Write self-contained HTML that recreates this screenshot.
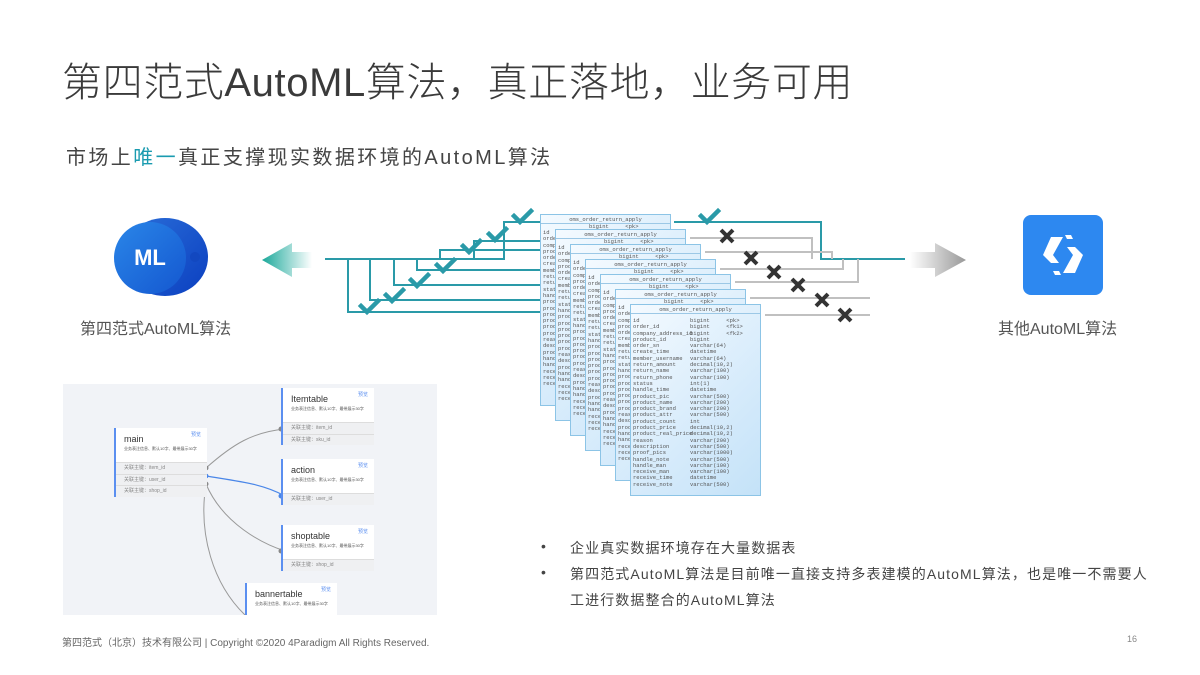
<!DOCTYPE html>
<html><head><meta charset="utf-8"><style>
*{margin:0;padding:0;box-sizing:border-box}
body{width:1200px;height:675px;background:#fff;position:relative;overflow:hidden;font-family:"Liberation Sans","Noto Sans CJK SC",sans-serif;color:#444}
.abs{position:absolute;white-space:nowrap}
.card{position:absolute;width:131px;height:192px;background:linear-gradient(135deg,#f4faff,#d6ebfb 60%,#c4e2f8);border:1.5px solid #8cc4e6;font-family:"Liberation Mono",monospace;font-size:5.5px;color:#555;overflow:hidden}
.card .h{height:9px;border-bottom:1px solid #9cc8e6;text-align:center;line-height:9px}
.card .s{height:6px;line-height:6px;padding-left:48px}
.card .r{display:flex;line-height:6.3px;padding-left:2px}
.card .r span:first-child{width:57px}
.node{position:absolute;background:#fff;border-left:2px solid #5b8ff0;font-size:7px;color:#333}
.node .t{padding:6px 0 0 8px;font-size:9px;color:#333}
.node .d{padding:2px 0 0 8px;font-size:4px;color:#555}
.node .p{position:absolute;right:6px;top:3px;font-size:5px;color:#5b8ff0}
.node .k{background:#eff0f2;border-top:1px solid #ddd;height:11.5px;line-height:11px;padding-left:8px;font-size:5px;color:#888}
.b{font-size:14px;color:#444;letter-spacing:1.1px}
</style></head><body>
<div class="abs" style="left:62px;top:50px;font-size:40px;color:#3a3a3a;font-weight:300;letter-spacing:0.6px">第四范式AutoML算法，真正落地，业务可用</div>
<div class="abs" style="left:66px;top:141px;font-size:20px;color:#444;letter-spacing:2.4px">市场上<span style="color:#1a9bb0">唯一</span>真正支撑现实数据环境的AutoML算法</div>

<!-- ML logo -->
<div class="abs" style="left:122px;top:218px;width:86px;height:78px;border-radius:50%;background:linear-gradient(135deg,#2b6fd9,#0b3fc0)"></div>
<div class="abs" style="left:114px;top:222px;width:72px;height:72px;border-radius:50%;background:linear-gradient(135deg,#2a86e8,#1457d0);color:#fff;font-size:22px;font-weight:bold;text-align:center;line-height:72px">ML</div>
<div class="abs" style="left:190px;top:252px;width:10px;height:10px;border-radius:50%;background:#1248c0"></div>
<div class="abs" style="left:80px;top:315px;font-size:16px;color:#555">第四范式AutoML算法</div>

<!-- other logo -->
<div class="abs" style="left:1023px;top:215px;width:80px;height:80px;border-radius:8px;background:#2d88f0"></div>
<svg class="abs" style="left:1023px;top:215px" width="80" height="80"><g fill="#fff">
<polygon points="28,22 40,22 30,40 36,48 28,48 20,40"/><polygon points="52,58 40,58 50,40 44,32 52,32 60,40"/>
<polygon points="42,20 48,20 50,24 44,24"/><polygon points="38,60 32,60 30,56 36,56"/></g></svg>
<div class="abs" style="left:998px;top:315px;font-size:16px;color:#555">其他AutoML算法</div>

<svg class="abs" style="left:0;top:0" width="1200" height="675">
<defs>
<linearGradient id="ga" x1="0" x2="1"><stop offset="0" stop-color="#1aa89a"/><stop offset="1" stop-color="#1aa89a" stop-opacity="0"/></linearGradient>
<linearGradient id="gb" x1="0" x2="1"><stop offset="0" stop-color="#fff"/><stop offset="1" stop-color="#999"/></linearGradient>
</defs>
<polygon points="262,260 292,243 292,252 312,252 312,268 292,268 292,277" fill="url(#ga)"/>
<polygon points="910,252 935,252 935,243 966,260 935,277 935,268 910,268" fill="url(#gb)"/>
<g stroke="#2a9aa8" stroke-width="2" fill="none">
<polyline points="325,259 348,259 348,312 630,312"/>
<polyline points="370,259 370,300 615,300"/>
<polyline points="394,259 394,285 600,285"/>
<polyline points="417,259 417,270 585,270"/>
<polyline points="440,259 440,250 570,250"/>
<polyline points="474,259 474,241 555,241"/>
<polyline points="348,259 504,259 504,222 540,222"/>
<polyline points="674,222 821,222 821,259 905,259"/>
</g>
<g stroke="#c0c0c0" stroke-width="2" fill="none">
<polyline points="690,238 812,238 812,259"/>
<polyline points="705,252 832,252 832,259"/>
<polyline points="720,269 843,269 843,259"/>
<polyline points="735,282 858,282 858,259"/>
<polyline points="750,298 870,298"/>
<polyline points="765,315 870,315"/>
</g>
</svg>

<div class="card" style="left:540px;top:214px"><div class="h">oms_order_return_apply</div><div class="s">bigint &nbsp;&nbsp;&nbsp;&nbsp;&lt;pk&gt;</div><div class="r"><span>id</span></div><div class="r"><span>order_id</span></div><div class="r"><span>company</span></div><div class="r"><span>product</span></div><div class="r"><span>order_sn</span></div><div class="r"><span>create</span></div><div class="r"><span>member</span></div><div class="r"><span>return</span></div><div class="r"><span>return</span></div><div class="r"><span>status</span></div><div class="r"><span>handle</span></div><div class="r"><span>product</span></div><div class="r"><span>product</span></div><div class="r"><span>product</span></div><div class="r"><span>product</span></div><div class="r"><span>product</span></div><div class="r"><span>product</span></div><div class="r"><span>reason</span></div><div class="r"><span>descr</span></div><div class="r"><span>proof</span></div><div class="r"><span>handle</span></div><div class="r"><span>handle</span></div><div class="r"><span>receive</span></div><div class="r"><span>receive</span></div><div class="r"><span>receive</span></div></div>
<div class="card" style="left:555px;top:229px"><div class="h">oms_order_return_apply</div><div class="s">bigint &nbsp;&nbsp;&nbsp;&nbsp;&lt;pk&gt;</div><div class="r"><span>id</span></div><div class="r"><span>order_id</span></div><div class="r"><span>company</span></div><div class="r"><span>product</span></div><div class="r"><span>order_sn</span></div><div class="r"><span>create</span></div><div class="r"><span>member</span></div><div class="r"><span>return</span></div><div class="r"><span>return</span></div><div class="r"><span>status</span></div><div class="r"><span>handle</span></div><div class="r"><span>product</span></div><div class="r"><span>product</span></div><div class="r"><span>product</span></div><div class="r"><span>product</span></div><div class="r"><span>product</span></div><div class="r"><span>product</span></div><div class="r"><span>reason</span></div><div class="r"><span>descr</span></div><div class="r"><span>proof</span></div><div class="r"><span>handle</span></div><div class="r"><span>handle</span></div><div class="r"><span>receive</span></div><div class="r"><span>receive</span></div><div class="r"><span>receive</span></div></div>
<div class="card" style="left:570px;top:244px"><div class="h">oms_order_return_apply</div><div class="s">bigint &nbsp;&nbsp;&nbsp;&nbsp;&lt;pk&gt;</div><div class="r"><span>id</span></div><div class="r"><span>order_id</span></div><div class="r"><span>company</span></div><div class="r"><span>product</span></div><div class="r"><span>order_sn</span></div><div class="r"><span>create</span></div><div class="r"><span>member</span></div><div class="r"><span>return</span></div><div class="r"><span>return</span></div><div class="r"><span>status</span></div><div class="r"><span>handle</span></div><div class="r"><span>product</span></div><div class="r"><span>product</span></div><div class="r"><span>product</span></div><div class="r"><span>product</span></div><div class="r"><span>product</span></div><div class="r"><span>product</span></div><div class="r"><span>reason</span></div><div class="r"><span>descr</span></div><div class="r"><span>proof</span></div><div class="r"><span>handle</span></div><div class="r"><span>handle</span></div><div class="r"><span>receive</span></div><div class="r"><span>receive</span></div><div class="r"><span>receive</span></div></div>
<div class="card" style="left:585px;top:259px"><div class="h">oms_order_return_apply</div><div class="s">bigint &nbsp;&nbsp;&nbsp;&nbsp;&lt;pk&gt;</div><div class="r"><span>id</span></div><div class="r"><span>order_id</span></div><div class="r"><span>company</span></div><div class="r"><span>product</span></div><div class="r"><span>order_sn</span></div><div class="r"><span>create</span></div><div class="r"><span>member</span></div><div class="r"><span>return</span></div><div class="r"><span>return</span></div><div class="r"><span>status</span></div><div class="r"><span>handle</span></div><div class="r"><span>product</span></div><div class="r"><span>product</span></div><div class="r"><span>product</span></div><div class="r"><span>product</span></div><div class="r"><span>product</span></div><div class="r"><span>product</span></div><div class="r"><span>reason</span></div><div class="r"><span>descr</span></div><div class="r"><span>proof</span></div><div class="r"><span>handle</span></div><div class="r"><span>handle</span></div><div class="r"><span>receive</span></div><div class="r"><span>receive</span></div><div class="r"><span>receive</span></div></div>
<div class="card" style="left:600px;top:274px"><div class="h">oms_order_return_apply</div><div class="s">bigint &nbsp;&nbsp;&nbsp;&nbsp;&lt;pk&gt;</div><div class="r"><span>id</span></div><div class="r"><span>order_id</span></div><div class="r"><span>company</span></div><div class="r"><span>product</span></div><div class="r"><span>order_sn</span></div><div class="r"><span>create</span></div><div class="r"><span>member</span></div><div class="r"><span>return</span></div><div class="r"><span>return</span></div><div class="r"><span>status</span></div><div class="r"><span>handle</span></div><div class="r"><span>product</span></div><div class="r"><span>product</span></div><div class="r"><span>product</span></div><div class="r"><span>product</span></div><div class="r"><span>product</span></div><div class="r"><span>product</span></div><div class="r"><span>reason</span></div><div class="r"><span>descr</span></div><div class="r"><span>proof</span></div><div class="r"><span>handle</span></div><div class="r"><span>handle</span></div><div class="r"><span>receive</span></div><div class="r"><span>receive</span></div><div class="r"><span>receive</span></div></div>
<div class="card" style="left:615px;top:289px"><div class="h">oms_order_return_apply</div><div class="s">bigint &nbsp;&nbsp;&nbsp;&nbsp;&lt;pk&gt;</div><div class="r"><span>id</span></div><div class="r"><span>order_id</span></div><div class="r"><span>company</span></div><div class="r"><span>product</span></div><div class="r"><span>order_sn</span></div><div class="r"><span>create</span></div><div class="r"><span>member</span></div><div class="r"><span>return</span></div><div class="r"><span>return</span></div><div class="r"><span>status</span></div><div class="r"><span>handle</span></div><div class="r"><span>product</span></div><div class="r"><span>product</span></div><div class="r"><span>product</span></div><div class="r"><span>product</span></div><div class="r"><span>product</span></div><div class="r"><span>product</span></div><div class="r"><span>reason</span></div><div class="r"><span>descr</span></div><div class="r"><span>proof</span></div><div class="r"><span>handle</span></div><div class="r"><span>handle</span></div><div class="r"><span>receive</span></div><div class="r"><span>receive</span></div><div class="r"><span>receive</span></div></div>
<div class="card" style="left:630px;top:304px"><div class="h">oms_order_return_apply</div><div style="height:4px"></div>
<div class="r"><span>id</span><span>bigint &nbsp;&nbsp;&nbsp;&nbsp;&lt;pk&gt;</span></div><div class="r"><span>order_id</span><span>bigint &nbsp;&nbsp;&nbsp;&nbsp;&lt;fk1&gt;</span></div><div class="r"><span>company_address_id</span><span>bigint &nbsp;&nbsp;&nbsp;&nbsp;&lt;fk2&gt;</span></div><div class="r"><span>product_id</span><span>bigint</span></div><div class="r"><span>order_sn</span><span>varchar(64)</span></div><div class="r"><span>create_time</span><span>datetime</span></div><div class="r"><span>member_username</span><span>varchar(64)</span></div><div class="r"><span>return_amount</span><span>decimal(10,2)</span></div><div class="r"><span>return_name</span><span>varchar(100)</span></div><div class="r"><span>return_phone</span><span>varchar(100)</span></div><div class="r"><span>status</span><span>int(1)</span></div><div class="r"><span>handle_time</span><span>datetime</span></div><div class="r"><span>product_pic</span><span>varchar(500)</span></div><div class="r"><span>product_name</span><span>varchar(200)</span></div><div class="r"><span>product_brand</span><span>varchar(200)</span></div><div class="r"><span>product_attr</span><span>varchar(500)</span></div><div class="r"><span>product_count</span><span>int</span></div><div class="r"><span>product_price</span><span>decimal(10,2)</span></div><div class="r"><span>product_real_price</span><span>decimal(10,2)</span></div><div class="r"><span>reason</span><span>varchar(200)</span></div><div class="r"><span>description</span><span>varchar(500)</span></div><div class="r"><span>proof_pics</span><span>varchar(1000)</span></div><div class="r"><span>handle_note</span><span>varchar(500)</span></div><div class="r"><span>handle_man</span><span>varchar(100)</span></div><div class="r"><span>receive_man</span><span>varchar(100)</span></div><div class="r"><span>receive_time</span><span>datetime</span></div><div class="r"><span>receive_note</span><span>varchar(500)</span></div></div>

<svg class="abs" style="left:0;top:0" width="1200" height="675">
<g stroke="#2a9aa8" stroke-width="4.5" fill="none" stroke-linecap="square">
<path d="M361,306 l6,6 l11,-11"/><path d="M386,295 l6,6 l11,-11"/><path d="M411,280 l6,6 l11,-11"/><path d="M437,265 l6,6 l11,-11"/><path d="M463,246 l6,6 l11,-11"/><path d="M489,234 l6,6 l11,-11"/><path d="M514,216 l6,6 l11,-11"/><path d="M701,216 l6,6 l11,-11"/>
</g>
<g stroke="#333" stroke-width="4" stroke-linecap="butt">
<path d="M721,230 l12,12 M733,230 l-12,12"/><path d="M745,252 l12,12 M757,252 l-12,12"/><path d="M768,266 l12,12 M780,266 l-12,12"/><path d="M792,279 l12,12 M804,279 l-12,12"/><path d="M816,294 l12,12 M828,294 l-12,12"/><path d="M839,309 l12,12 M851,309 l-12,12"/>
</g>
</svg>

<!-- bottom-left panel -->
<div class="abs" style="left:63px;top:384px;width:374px;height:231px;background:#f1f3f7;overflow:hidden">
<svg class="abs" style="left:0;top:0" width="374" height="231" fill="none">
<path d="M143,84 C170,60 190,48 222,45" stroke="#999" stroke-width="1"/>
<path d="M143,92 C180,98 200,100 222,112" stroke="#4a86e8" stroke-width="1.2"/>
<path d="M143,100 C160,140 200,160 222,167" stroke="#999" stroke-width="1"/>
<path d="M143,100 C135,150 150,200 182,231" stroke="#999" stroke-width="1"/>
<circle cx="143" cy="84" r="2.5" fill="#888"/><circle cx="143" cy="92" r="2.5" fill="#4a86e8"/><circle cx="143" cy="100" r="2.5" fill="#888"/>
<circle cx="218" cy="45" r="2.5" fill="#888"/><circle cx="218" cy="112" r="2.5" fill="#4a86e8"/><circle cx="218" cy="167" r="2.5" fill="#888"/>
</svg>
<div class="node" style="left:51px;top:44px;width:93px"><div class="p">预览</div><div class="t">main</div><div class="d" style="height:18px">业务表注信息、默认10字、最带展示30字</div><div class="k">关联主键：item_id</div><div class="k">关联主键：user_id</div><div class="k">关联主键：shop_id</div></div>
<div class="node" style="left:218px;top:4px;width:93px"><div class="p">预览</div><div class="t">Itemtable</div><div class="d" style="height:18px">业务表注信息、默认10字、最带展示30字</div><div class="k">关联主键：item_id</div><div class="k">关联主键：sku_id</div></div>
<div class="node" style="left:218px;top:75px;width:93px"><div class="p">预览</div><div class="t">action</div><div class="d" style="height:18px">业务表注信息、默认10字、最带展示30字</div><div class="k">关联主键：user_id</div></div>
<div class="node" style="left:218px;top:141px;width:93px"><div class="p">预览</div><div class="t">shoptable</div><div class="d" style="height:18px">业务表注信息、默认10字、最带展示30字</div><div class="k">关联主键：shop_id</div></div>
<div class="node" style="left:182px;top:199px;width:92px;height:40px"><div class="p">预览</div><div class="t">bannertable</div><div class="d">业务表注信息、默认10字、最带展示30字</div></div>
</div>

<div class="abs b" style="left:541px;top:538px">•</div>
<div class="abs b" style="left:570px;top:538px">企业真实数据环境存在大量数据表</div>
<div class="abs b" style="left:541px;top:564px">•</div>
<div class="abs b" style="left:570px;top:564px">第四范式AutoML算法是目前唯一直接支持多表建模的AutoML算法，也是唯一不需要人</div>
<div class="abs b" style="left:570px;top:590px">工进行数据整合的AutoML算法</div>

<div class="abs" style="left:62px;top:634px;font-size:10px;color:#666">第四范式（北京）技术有限公司 | Copyright ©2020 4Paradigm All Rights Reserved.</div>
<div class="abs" style="left:1127px;top:634px;font-size:9px;color:#888">16</div>
</body></html>
